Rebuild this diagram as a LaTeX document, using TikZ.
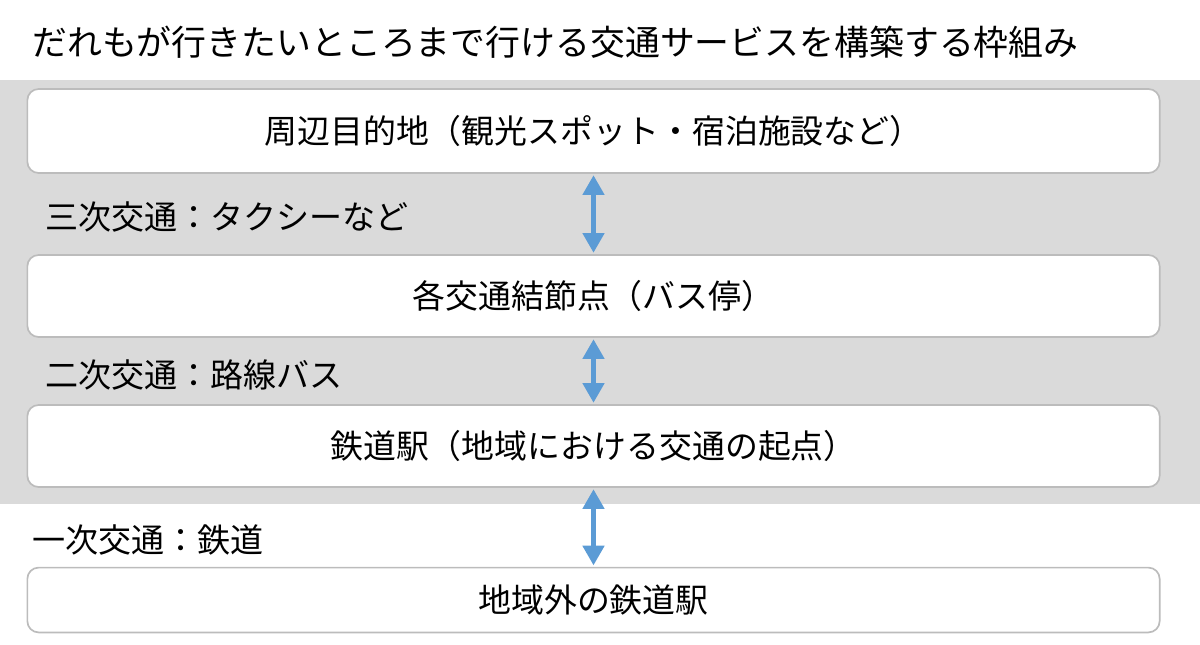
\documentclass[tikz,border=0pt]{standalone}
\usepackage{fontspec}
\setmainfont{Noto Sans CJK JP}
\usetikzlibrary{arrows.meta}

\definecolor{bandgray}{RGB}{218,218,218}
\definecolor{edgegray}{RGB}{188,188,188}
\definecolor{arrowblue}{RGB}{91,155,213}

\tikzset{
  levelbox/.style={draw=edgegray, line width=1.2pt, fill=white, rounded corners=8pt,
    minimum width=28.3cm, inner sep=0pt, font=\fontsize{23.4}{28}\selectfont},
  tierlabel/.style={anchor=west, inner sep=0pt, font=\fontsize{23.5}{28}\selectfont},
  linkarrow/.style={arrowblue, line width=3.2pt, {Triangle[length=14pt,width=15pt]}-{Triangle[length=14pt,width=15pt]}, shorten <=1pt, shorten >=1pt}
}

\begin{document}
\begin{tikzpicture}[x=0.025cm, y=-0.025cm]
  \useasboundingbox (0,0) rectangle (1200,644);

  %% --- 見出し ---
  \node[tierlabel, font=\fontsize{24.8}{28}\selectfont] (title) at (32,42) {だれもが行きたいところまで行ける交通サービスを構築する枠組み};

  %% --- 地域内（灰色の帯） ---
  \fill[bandgray] (0,80) rectangle (1200,504);

  \node[levelbox, minimum height=2.1cm] (dest) at (593.5,131) {周辺目的地（観光スポット・宿泊施設など）};
  \node[levelbox, minimum height=2.05cm] (hub) at (593.5,296) {各交通結節点（バス停）};
  \node[levelbox, minimum height=2.05cm] (local) at (593.5,446) {鉄道駅（地域における交通の起点）};

  %% --- 地域外 ---
  \node[levelbox, minimum height=1.62cm] (outer) at (593.5,600) {地域外の鉄道駅};

  %% 交通の段階
  \node[tierlabel] (third) at (45,217) {三次交通：タクシーなど};
  \node[tierlabel] (second) at (45,375) {二次交通：路線バス};
  \node[tierlabel] (first) at (32,540) {一次交通：鉄道};

  \draw[linkarrow] (dest.south) -- (hub.north);
  \draw[linkarrow] (hub.south) -- (local.north);
  \draw[linkarrow] (local.south) -- (outer.north);
\end{tikzpicture}
\end{document}
